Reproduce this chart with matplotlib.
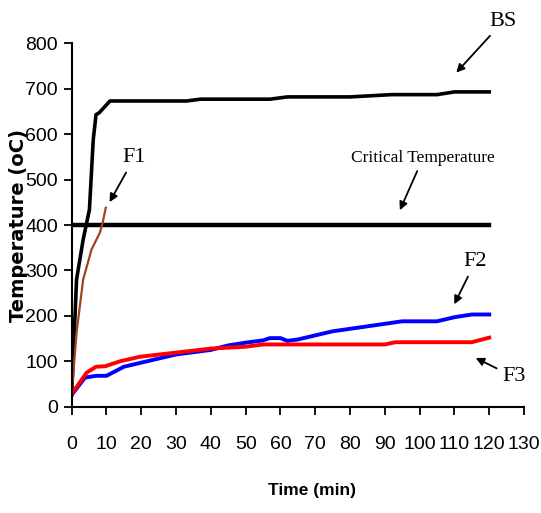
import matplotlib.pyplot as plt

# 시간 (min) 과 각 시편의 온도 (oC)
bs_t = [0, 1.4, 3.3, 5.1, 6.2, 7.0, 7.9, 11, 33, 37, 57, 62, 80, 92, 105, 110, 120]
bs_v = [26, 280, 368, 434, 588, 643, 647, 673, 673, 677, 677, 682, 682, 687, 687, 693, 693]

f1_t = [0, 1.4, 3.3, 5.7, 8.1, 8.9, 9.8]
f1_v = [28, 163, 280, 346, 383, 405, 438]

f2_t = [0, 3.8, 7, 10, 15, 20, 30, 40, 45, 50, 55, 57, 60, 62, 65, 75, 85, 95, 105, 110, 115, 120]
f2_v = [26, 64, 68, 68, 88, 97, 115, 125, 135, 141, 146, 151, 151, 145, 148, 166, 177, 188, 188, 197, 203, 203]

f3_t = [0, 4.3, 7, 9.6, 13.9, 19.6, 31, 40, 50, 55, 90, 93, 115, 120]
f3_v = [28, 75, 88, 89, 100, 110, 120, 128, 132, 137, 137, 142, 142, 152]

crit_t = [0, 120]
crit_v = [400, 400]

xticks = list(range(0, 131, 10))
yticks = list(range(0, 801, 100))

tick_font = ['DejaVu Sans Condensed', 'Liberation Sans', 'DejaVu Sans']
serif = ['Liberation Serif', 'DejaVu Serif']

fig = plt.figure(figsize=(5.41, 5.13), dpi=100)
ax = fig.add_axes([0.1325, 0.2072, 0.8361, 0.7084])

ax.plot(crit_t, crit_v, color='black', lw=3.2)
ax.plot(bs_t, bs_v, color='black', lw=2.6)
ax.plot(f1_t, f1_v, color='#a0441c', lw=1.6)
ax.plot(f2_t, f2_v, color='#0000ff', lw=2.8)
ax.plot(f3_t, f3_v, color='#ff0000', lw=2.8)

ax.set_xlim(0, 130)
ax.set_ylim(0, 800)
ax.set_xticks(xticks)
ax.set_yticks(yticks)
ax.spines['top'].set_visible(False)
ax.spines['right'].set_visible(False)
ax.spines['left'].set_linewidth(1.5)
ax.spines['bottom'].set_linewidth(1.5)
ax.tick_params(direction='out', length=6, width=1.3, pad=15)
ax.tick_params(axis='y', pad=4)
for lab in ax.get_xticklabels() + ax.get_yticklabels():
    lab.set_family(tick_font)
    lab.set_fontsize(14)

ax.set_xlabel("Time (min)", family=tick_font, fontsize=12.5, fontweight='bold')
ax.xaxis.set_label_coords(0.531, -0.21)
ax.set_ylabel("Temperature (oC)", family='DejaVu Sans', fontsize=14, fontweight='bold')
ax.yaxis.set_label_coords(-0.097, 0.5)

arrow = dict(arrowstyle='-|>', color='black', lw=1.3, mutation_scale=12)
ax.annotate("BS", xy=(110, 731), xytext=(124, 848), fontsize=16, family=serif, ha='center', va='center', arrowprops=arrow, annotation_clip=False)
ax.annotate("Critical Temperature", xy=(94, 427), xytext=(101, 548), fontsize=12.5, family=serif, ha='center', va='center', arrowprops=arrow, annotation_clip=False)
ax.annotate("F1", xy=(10.5, 445), xytext=(18, 548), fontsize=16, family=serif, ha='center', va='center', arrowprops=arrow, annotation_clip=False)
ax.annotate("F2", xy=(109.6, 220), xytext=(116, 319), fontsize=16, family=serif, ha='center', va='center', arrowprops=arrow, annotation_clip=False)
ax.annotate("F3", xy=(115.4, 110), xytext=(127, 66), fontsize=16, family=serif, ha='center', va='center', arrowprops=arrow, annotation_clip=False)

plt.savefig("out.png", dpi=100)
